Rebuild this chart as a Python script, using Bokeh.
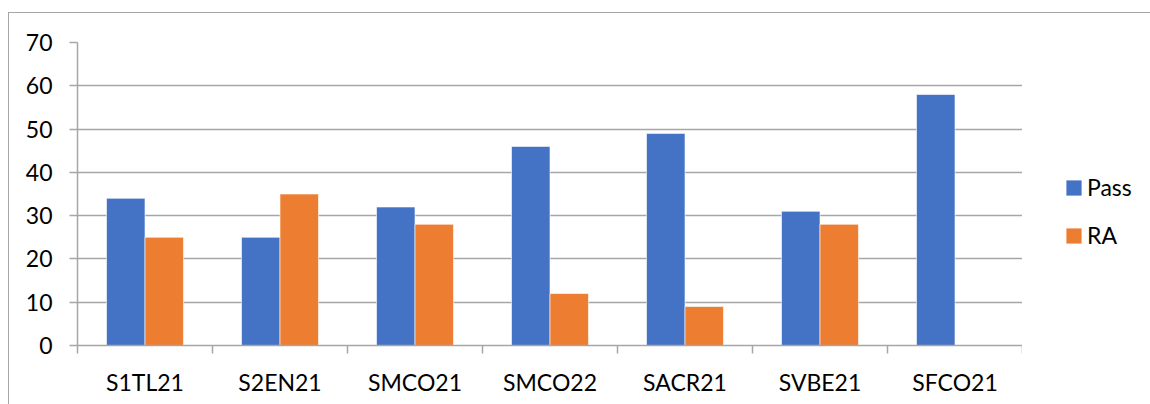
from bokeh.plotting import figure
from bokeh.layouts import row
from bokeh.models import (ColumnDataSource, FixedTicker, CustomJSTickFormatter,
                          Legend, LegendItem, Range1d)
from bokeh.transform import dodge
from bokeh.embed import file_html
from bokeh.resources import INLINE

categories = ["S1TL21", "S2EN21", "SMCO21", "SMCO22", "SACR21", "SVBE21", "SFCO21"]
pass_vals = [34, 25, 32, 46, 49, 31, 58]
ra_vals = [25, 35, 28, 12, 9, 28, 0]
y_ticks = [0, 10, 20, 30, 40, 50, 60, 70]
series_names = ["Pass", "RA"]

FONT = "Lato"
GRID = "#a6a6a6"
BLUE = "#4472C4"
ORANGE = "#ED7D31"

n = len(categories)
src = ColumnDataSource(dict(
    x=[i + 0.5 for i in range(n)],
    cat=categories,
    pass_=pass_vals,
    ra=ra_vals,
))

p = figure(frame_width=945, frame_height=303, output_backend="svg", toolbar_location=None,
           x_range=Range1d(0, n), y_range=Range1d(0, 70),
           min_border_left=68, min_border_right=0, min_border_top=29,
           min_border_bottom=59)
p.outline_line_color = None
p.background_fill_color = "white"
p.border_fill_color = "white"

bw = 0.285
p.vbar(x=dodge("x", -bw / 2, range=p.x_range), top="pass_", width=bw, source=src,
       fill_color=BLUE, line_color="white", line_width=0.6)
p.vbar(x=dodge("x", bw / 2, range=p.x_range), top="ra", width=bw, source=src,
       fill_color=ORANGE, line_color="white", line_width=0.6)

# x axis: labels at category centres, tick marks at category boundaries
xa = p.xaxis[0]
xa.ticker = FixedTicker(ticks=[i + 0.5 for i in range(n)],
                        minor_ticks=list(range(n + 1)))
xa.formatter = CustomJSTickFormatter(args=dict(cats=categories),
                                     code="return cats[Math.floor(tick)] || '';")
xa.major_tick_out = 0
xa.major_tick_in = 0
xa.minor_tick_out = 8
xa.minor_tick_in = 0
xa.minor_tick_line_color = GRID
xa.minor_tick_line_width = 1.5
xa.axis_line_color = GRID
xa.axis_line_width = 1.5
xa.major_label_text_font = FONT
xa.major_label_text_font_size = "23px"
xa.major_label_text_color = "#000000"
xa.major_label_standoff = 14

ya = p.yaxis[0]
ya.ticker = FixedTicker(ticks=y_ticks)
ya.major_tick_out = 8
ya.major_tick_in = 0
ya.minor_tick_line_color = None
ya.major_tick_line_color = GRID
ya.major_tick_line_width = 1.5
ya.axis_line_color = GRID
ya.axis_line_width = 1.5
ya.major_label_text_font = FONT
ya.major_label_text_font_size = "23px"
ya.major_label_text_color = "#000000"
ya.major_label_standoff = 17

p.xgrid.grid_line_color = None
p.ygrid.ticker = FixedTicker(ticks=y_ticks)
p.ygrid.grid_line_color = GRID
p.ygrid.grid_line_width = 1.5

# legend lives in a small companion figure to the right of the plot area;
# its renderers share the data but their range keeps the bars out of view
q = figure(width=128, height=391, output_backend="svg", toolbar_location=None,
           x_axis_type=None, y_axis_type=None,
           x_range=Range1d(-3, -2), y_range=Range1d(0, 70),
           min_border_left=0, min_border_right=0, min_border_top=0, min_border_bottom=0)
q.outline_line_color = None
q.xgrid.grid_line_color = None
q.ygrid.grid_line_color = None
q.background_fill_color = "white"
q.border_fill_color = "white"
lr1 = q.vbar(x="x", top="pass_", width=bw, source=src, fill_color=BLUE, line_color=None)
lr2 = q.vbar(x="x", top="ra", width=bw, source=src, fill_color=ORANGE, line_color=None)

legend = Legend(items=[LegendItem(label=series_names[0], renderers=[lr1]),
                       LegendItem(label=series_names[1], renderers=[lr2])],
                location=(42, 96))
legend.padding = 0
legend.margin = 0
legend.border_line_color = None
legend.background_fill_color = None
legend.glyph_width = 19
legend.glyph_height = 19
legend.label_standoff = 4
legend.spacing = 20
legend.label_text_font = FONT
legend.label_text_font_size = "23px"
legend.label_text_color = "#000000"
q.add_layout(legend)

layout = row(p, q)
layout.margin = (12, 0, 0, 8)
layout.styles = {"border-left": "1px solid #a6a6a6", "border-top": "1px solid #a6a6a6"}

open("out.html", "w").write(file_html(layout, INLINE))
